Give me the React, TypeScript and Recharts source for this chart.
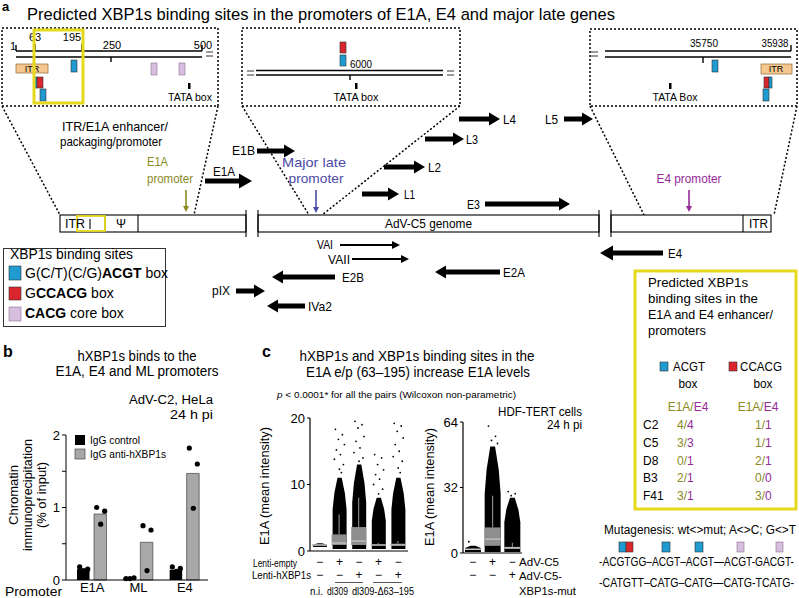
import React from 'react';
import { ComposedChart, Bar, Scatter, XAxis, YAxis } from 'recharts';

const FONT = '"Liberation Sans", Arial, Helvetica, sans-serif';

// ---------- Panel b data ----------
const promoters = ['E1A', 'ML', 'E4'];
const iggControl = [0.15, 0.03, 0.14];
const iggAnti = [0.91, 0.52, 1.47];
const controlReps = [[0.18, 0.15, 0.13], [0.02, 0.03, 0.02], [0.18, 0.16, 0.12]];
const antiReps = [[1.0, 0.95, 0.77], [0.75, 0.69, 0.13], [1.82, 1.6, 0.99]];
const chipTicks = [0, 0.5, 1, 1.5, 2];

// ---------- Panel c (left) data ----------
const lentiGroups = ['n.i.', 'dl309 empty', 'dl309 hXBP1s', 'd63 empty', 'd63 hXBP1s'];
const lentiEmptySigns = ['−', '+', '−', '+', '−'];
const lentiXbpSigns = ['−', '−', '+', '−', '+'];
const lentiDenseLo = [0.6, 0.3, 0.3, 0.3, 0.3];
const lentiDenseHi = [1.15, 11, 13, 8, 11];
const lentiQ1 = [0.8, 0.9, 0.9, 0.8, 0.8];
const lentiMedian = [0.9, 1.2, 1.5, 0.9, 0.9];
const lentiQ3 = [1.0, 2.5, 3.6, 1.0, 1.1];
const lentiWhisker = [1.0, 5.5, 8, 1.2, 1.5];
const lentiOutliers = [
  [],
  [18.3, 17.5, 16.8, 16.0, 15.2, 14.5, 13.8, 13.0, 12.3, 11.8],
  [19.5, 19.0, 18.5, 17.2, 16.5, 15.5, 14.8, 14.0, 13.5],
  [14.5, 14.0, 13.0, 12.2, 11.5, 10.8, 10.0, 9.3, 8.6],
  [19.2, 18.8, 18.0, 17.0, 16.0, 15.0, 14.2, 13.5, 12.5, 11.8],
];
const lentiTicks = [0, 10, 20];

// ---------- Panel c (right) data ----------
const advGroups = ['n.i.', 'AdV-C5', 'AdV-C5-XBP1s-mut'];
const advSigns1 = ['−', '+', '−'];
const advSigns2 = ['−', '−', '+'];
const advDenseLo = [0.5, 0.5, 0.5];
const advDenseHi = [3.5, 52, 27];
const advQ1 = [1.5, 3.5, 2.0];
const advMedian = [1.8, 6.8, 2.5];
const advQ3 = [2.2, 12.5, 3.0];
const advWhisker = [2.5, 28, 5];
const advOutliers = [[5.5], [62, 57, 55, 53.5], [30, 29, 28]];
const advTicks = [0, 32, 64];

// ---------- Yellow table data ----------
const strains = ['C2', 'C5', 'D8', 'B3', 'F41'];
const acgtE1A = [4, 3, 0, 2, 3];
const acgtE4 = [4, 3, 1, 1, 1];
const ccacgE1A = [1, 1, 2, 0, 3];
const ccacgE4 = [1, 1, 1, 0, 0];

// ---------- derived tables ----------
const chipData = promoters.map((p, i) => ({ promoter: p, control: iggControl[i], anti: iggAnti[i] }));
const ctrlDots = promoters.flatMap((p, i) => controlReps[i].map((v, r) => ({ promoter: p, v, rep: r })));
const antiDots = promoters.flatMap((p, i) => antiReps[i].map((v, r) => ({ promoter: p, v, rep: r })));

const lentiRows = lentiGroups.map((g, i) => ({
  g, dense: [lentiDenseLo[i], lentiDenseHi[i]], box: [lentiQ1[i], lentiQ3[i]], med: lentiMedian[i], wh: lentiWhisker[i],
}));
const lentiOut = lentiGroups.flatMap((g, i) => lentiOutliers[i].map((v, r) => ({ g, v, rep: r })));
const advRows = advGroups.map((g, i) => ({
  g, dense: [advDenseLo[i], advDenseHi[i]], box: [advQ1[i], advQ3[i]], med: advMedian[i], wh: advWhisker[i],
}));
const advOut = advGroups.flatMap((g, i) => advOutliers[i].map((v, r) => ({ g, v, rep: r })));

// ---------- colours ----------
const OLIVE = '#8a8a1e';
const PURPLE = '#952a98';
const MLBLUE = '#4b4aa6';
const YELLOW = '#e4d91c';
const BOXBLUE = '#1f9bd1';
const BOXRED = '#d9252b';
const PINK = '#d8bede';
const ITRFILL = '#f6c88f';

// ---------- helpers ----------
const T = ({ x, y, s = 12, w, a = 'start', c = '#000', b = false, rot, children }: any) => (
  <text
    x={x}
    y={y}
    fontSize={s}
    fill={c}
    fontWeight={b ? 'bold' : 'normal'}
    textAnchor={a}
    textLength={w}
    lengthAdjust={w ? 'spacingAndGlyphs' : undefined}
    transform={rot}
  >
    {children}
  </text>
);

const HArrow = ({ x1, x2, y, t = 5, hl = 11, hh = 13 }: any) => {
  const dir = x2 > x1 ? 1 : -1;
  const base = x2 - dir * hl;
  return (
    <g>
      <line x1={x1} y1={y} x2={base} y2={y} stroke="#000" strokeWidth={t} />
      <polygon points={`${x2},${y} ${base},${y - hh / 2} ${base},${y + hh / 2}`} fill="#000" />
    </g>
  );
};

const VArrow = ({ x, y1, y2, c }: any) => (
  <g>
    <line x1={x} y1={y1} x2={x} y2={y2 - 5} stroke={c} strokeWidth={1.6} />
    <polygon points={`${x},${y2} ${x - 3},${y2 - 6} ${x + 3},${y2 - 6}`} fill={c} />
  </g>
);

const Sw = ({ x, y, w, h, c, st }: any) => (
  <rect x={x} y={y} width={w} height={h} fill={c} stroke={st || '#333'} strokeWidth={0.6} />
);

const Eq = ({ x, y1, y2 }: any) => (
  <g stroke="#555" strokeWidth={1.2}>
    <line x1={x} x2={x + 7} y1={y1} y2={y1} />
    <line x1={x} x2={x + 7} y1={y2} y2={y2} />
  </g>
);

const JIT = [-4, 3, -1, 5, -3, 1, -5, 4, 0, 2];

const chipDot = (side: number) => (props: any) => {
  const { cx, cy, payload } = props;
  if (cx == null || cy == null) return <g />;
  const off = side * 8.5 + [-4, 4, 0][payload.rep];
  return <circle cx={cx + off} cy={cy} r={2.6} fill="#000" />;
};

const outDot = (props: any) => {
  const { cx, cy, payload } = props;
  if (cx == null || cy == null) return <g />;
  return <circle cx={cx + JIT[payload.rep % JIT.length]} cy={cy} r={0.9} fill="#000" />;
};

const Cloud = (p: any) => {
  const { x, width: w } = p;
  let { y, height: h } = p;
  if (h == null || isNaN(h)) return <g />;
  if (h < 0) { y = y + h; h = -h; }
  const b = y + h;
  const pts = [
    [x, b], [x, b - 0.55 * h], [x + 0.12 * w, b - 0.78 * h], [x + 0.35 * w, y],
    [x + 0.65 * w, y], [x + 0.88 * w, b - 0.78 * h], [x + w, b - 0.55 * h], [x + w, b],
  ];
  return <polygon points={pts.map((q) => q.join(',')).join(' ')} fill="#000" />;
};

const BoxShape = (p: any) => {
  const { x, width: w, payload } = p;
  let { y, height: h } = p;
  if (h == null || isNaN(h)) return <g />;
  if (h < 0) { y = y + h; h = -h; }
  const [q1, q3] = payload.box;
  const k = h / (q3 - q1);
  const bottom = y + h;
  const my = bottom - (payload.med - q1) * k;
  const wy = bottom - (payload.wh - q1) * k;
  return (
    <g>
      <line x1={x + w / 2} x2={x + w / 2} y1={y} y2={wy} stroke="#a0a0a0" strokeWidth={1} />
      <rect x={x} y={y} width={w} height={Math.max(h, 1.2)} fill="#8e8e8e" />
      <line x1={x} x2={x + w} y1={my} y2={my} stroke="#d6d6d6" strokeWidth={1} />
    </g>
  );
};

const signTick = (rows: string[][], groups: string[], d1: number, d2: number) => (props: any) => {
  const { x, y, payload } = props;
  const i = groups.indexOf(payload.value);
  return (
    <g fontSize={12} fill="#000">
      <text x={x} y={y + d1} textAnchor="middle">{rows[0][i]}</text>
      <text x={x} y={y + d2} textAnchor="middle">{rows[1][i]}</text>
    </g>
  );
};

const tickStyle = { fontSize: 13, fill: '#000' };

export default function App() {
  return (
    <div style={{ position: 'absolute', left: 0, top: 0, width: 799, height: 598, background: '#fff', fontFamily: FONT, overflow: 'hidden' }}>
      <svg width={799} height={598} style={{ position: 'absolute', left: 0, top: 0 }} fontFamily={FONT}>
        {/* ===== Panel a ===== */}
        <T x={2} y={11} s={13} b>a</T>
        <T x={27} y={20} s={17} w={588}>Predicted XBP1s binding sites in the promoters of E1A, E4 and major late genes</T>

        {/* insets */}
        <g fill="none" stroke="#000" strokeWidth={1.5} strokeDasharray="2 2">
          <rect x={2} y={28} width={216} height={78} />
          <rect x={242} y={28} width={218} height={78} />
          <rect x={590} y={29} width={207} height={77} />
          <line x1={2} y1={106} x2={60} y2={215} />
          <line x1={218} y1={106} x2={194} y2={215} />
          <line x1={242} y1={106} x2={309} y2={215} />
          <line x1={460} y1={106} x2={322} y2={215} />
          <line x1={590} y1={106} x2={644} y2={215} />
          <line x1={797} y1={106} x2={774} y2={215} />
        </g>

        {/* left inset */}
        <g stroke="#000" strokeWidth={1.4}>
          <line x1={16} x2={202} y1={51} y2={51} />
          <line x1={16} x2={202} y1={57} y2={57} />
          <line x1={16} x2={16} y1={45} y2={51} />
          <line x1={35} x2={35} y1={44} y2={51} />
          <line x1={82} x2={82} y1={44} y2={51} />
          <line x1={202} x2={202} y1={45} y2={51} />
          <line x1={111} x2={111} y1={57} y2={62} />
        </g>
        <Eq x={206} y1={52} y2={56} />
        <T x={10} y={50} s={11}>1</T>
        <T x={35} y={41} s={11} a="middle">63</T>
        <T x={72} y={41} s={11} a="middle">195</T>
        <T x={112} y={49} s={11} a="middle">250</T>
        <T x={203} y={49} s={11} a="middle">500</T>
        <rect x={16} y={64} width={32} height={9} fill={ITRFILL} stroke="#8a6a3a" strokeWidth={0.7} />
        <T x={32} y={71.5} s={9} a="middle">ITR</T>
        <Sw x={71} y={60} w={6} h={12} c={BOXBLUE} />
        <Sw x={151} y={63} w={6} h={12} c={PINK} st="#8a7090" />
        <Sw x={179} y={63} w={6} h={12} c={PINK} st="#8a7090" />
        <Sw x={34} y={77} w={3} h={11} c={BOXBLUE} />
        <Sw x={37} y={77} w={6} h={11} c={BOXRED} />
        <Sw x={40} y={89} w={6} h={12} c={BOXBLUE} />
        <rect x={188} y={83} width={2.5} height={6} fill="#000" />
        <T x={190} y={101} s={11} a="middle" w={44}>TATA box</T>
        <rect x={34} y={30} width={49} height={73} fill="none" stroke={YELLOW} strokeWidth={3} />

        {/* middle inset */}
        <g stroke="#000" strokeWidth={1.4}>
          <line x1={256} x2={443} y1={70.5} y2={70.5} />
          <line x1={256} x2={443} y1={75} y2={75} />
          <line x1={350} x2={350} y1={75} y2={80} />
        </g>
        <Eq x={247} y1={71} y2={75} />
        <Eq x={447} y1={71} y2={75} />
        <Sw x={340} y={42} w={6} h={11} c={BOXRED} />
        <Sw x={340} y={55} w={6} h={11} c={BOXBLUE} />
        <T x={350} y={68} s={11} w={22}>6000</T>
        <rect x={355} y={83} width={2.5} height={6} fill="#000" />
        <T x={356} y={101} s={11} a="middle" w={45}>TATA box</T>

        {/* right inset */}
        <g stroke="#000" strokeWidth={1.4}>
          <line x1={605} x2={791} y1={51} y2={51} />
          <line x1={605} x2={791} y1={57} y2={57} />
          <line x1={791} x2={791} y1={45} y2={51} />
          <line x1={703} x2={703} y1={57} y2={63} />
        </g>
        <Eq x={591} y1={52} y2={56} />
        <T x={704} y={47} s={11} a="middle" w={28}>35750</T>
        <T x={775} y={47} s={11} a="middle" w={27}>35938</T>
        <Sw x={712} y={60} w={6} h={12} c={BOXBLUE} />
        <rect x={761} y={64} width={31} height={10} fill={ITRFILL} stroke="#8a6a3a" strokeWidth={0.7} />
        <T x={776} y={72} s={9} a="middle">ITR</T>
        <Sw x={764} y={77} w={5} h={11} c={BOXRED} />
        <Sw x={769} y={77} w={3} h={11} c={BOXBLUE} />
        <Sw x={763} y={89} w={6} h={12} c={BOXBLUE} />
        <rect x={669} y={83} width={2.5} height={6} fill="#000" />
        <T x={675} y={101} s={11} a="middle" w={45}>TATA Box</T>

        <T x={62} y={131} s={13} w={106}>ITR/E1A enhancer/</T>
        <T x={60} y={146} s={13} w={102}>packaging/promoter</T>

        {/* promoters */}
        <T x={147} y={166} s={13} c={OLIVE} w={21}>E1A</T>
        <T x={147} y={183} s={13} c={OLIVE} w={46}>promoter</T>
        <VArrow x={186} y1={190} y2={212} c={OLIVE} />
        <T x={314} y={167} s={13} c={MLBLUE} a="middle" w={64}>Major late</T>
        <T x={316} y={183} s={13} c={MLBLUE} a="middle" w={55}>promoter</T>
        <VArrow x={316} y1={190} y2={213} c={MLBLUE} />
        <T x={689} y={183} s={13} c={PURPLE} a="middle" w={65}>E4 promoter</T>
        <VArrow x={689} y1={190} y2={212} c={PURPLE} />

        {/* transcription arrows */}
        <HArrow x1={205} x2={252} y={181} hl={13} hh={15} />
        <T x={213} y={176} s={13} w={22}>E1A</T>
        <HArrow x1={257} x2={295} y={151} />
        <T x={232} y={155} s={13} w={23}>E1B</T>
        <HArrow x1={362} x2={399} y={194} />
        <T x={404} y={199} s={13} w={11}>L1</T>
        <HArrow x1={384} x2={425} y={167} />
        <T x={428} y={172} s={13} w={13}>L2</T>
        <HArrow x1={425} x2={464} y={139} />
        <T x={466} y={144} s={13} w={12}>L3</T>
        <HArrow x1={459} x2={500} y={119} />
        <T x={503} y={124} s={13} w={13}>L4</T>
        <HArrow x1={564} x2={593} y={119} />
        <T x={545} y={124} s={13} w={13}>L5</T>
        <HArrow x1={485} x2={570} y={204} />
        <T x={467} y={209} s={13} w={13}>E3</T>
        <HArrow x1={663} x2={600} y={253} hl={13} hh={15} />
        <T x={668} y={258} s={13} w={14}>E4</T>
        <HArrow x1={500} x2={435} y={272} />
        <T x={503} y={277} s={13} w={22}>E2A</T>
        <HArrow x1={340} x2={400} y={245} t={2} hl={8} hh={8} />
        <T x={317} y={249} s={13} w={16}>VAI</T>
        <HArrow x1={352} x2={409} y={259} t={2} hl={8} hh={8} />
        <T x={328} y={264} s={13} w={22}>VAII</T>
        <HArrow x1={335} x2={272} y={277} />
        <T x={342} y={282} s={13} w={22}>E2B</T>
        <HArrow x1={236} x2={265} y={291} />
        <T x={212} y={295} s={13} w={18}>pIX</T>
        <HArrow x1={305} x2={267} y={306} />
        <T x={308} y={311} s={13} w={24}>IVa2</T>

        {/* genome bar */}
        <g fill="#fff" stroke="#000" strokeWidth={1.1}>
          <rect x={60} y={215} width={186} height={17} />
          <rect x={258} y={215} width={341} height={17} />
          <rect x={611} y={215} width={160} height={17} />
          <line x1={246} x2={246} y1={210} y2={237} />
          <line x1={258} x2={258} y1={210} y2={237} />
          <line x1={599} x2={599} y1={210} y2={237} />
          <line x1={611} x2={611} y1={210} y2={237} />
          <line x1={105} x2={105} y1={215} y2={232} />
          <line x1={138} x2={138} y1={215} y2={232} />
          <line x1={90} x2={90} y1={219} y2={229} />
          <line x1={743} x2={743} y1={215} y2={232} />
        </g>
        <rect x={77} y={216} width={28} height={15} fill="none" stroke={YELLOW} strokeWidth={1.8} />
        <T x={65} y={228} s={12} w={20}>ITR</T>
        <T x={121} y={228} s={12} a="middle">Ψ</T>
        <T x={385} y={228} s={12} w={87}>AdV-C5 genome</T>
        <T x={749} y={228} s={12} w={19}>ITR</T>

        {/* legend box */}
        <rect x={3.5} y={248.5} width={162} height={78} fill="#fff" stroke="#333" strokeWidth={1} />
        <T x={10} y={259} s={14} w={123}>XBP1s binding sites</T>
        <Sw x={9} y={266} w={12} h={14} c={BOXBLUE} />
        <text x={25} y={278} fontSize={14}>G(C/T)(C/G)<tspan fontWeight="bold">ACGT</tspan> box</text>
        <Sw x={9} y={287} w={12} h={13} c={BOXRED} />
        <text x={25} y={298} fontSize={14}>G<tspan fontWeight="bold">CCACG</tspan> box</text>
        <Sw x={9} y={307} w={12} h={14} c={PINK} st="#8a7090" />
        <text x={25} y={318} fontSize={14}><tspan fontWeight="bold">CACG</tspan> core box</text>

        {/* yellow box */}
        <rect x={635} y={271} width={161} height={238} fill="none" stroke={YELLOW} strokeWidth={3} />
        <T x={648} y={287} s={13} w={100}>Predicted XBP1s</T>
        <T x={648} y={303} s={13} w={110}>binding sites in the</T>
        <T x={648} y={319} s={13} w={125}>E1A and E4 enhancer/</T>
        <T x={648} y={335} s={13} w={58}>promoters</T>
        <Sw x={660} y={362} w={8} h={9} c={BOXBLUE} />
        <T x={673} y={371} s={12} w={32}>ACGT</T>
        <Sw x={729} y={362} w={8} h={9} c={BOXRED} />
        <T x={740} y={371} s={12} w={42}>CCACG</T>
        <T x={688} y={388} s={12} a="middle" w={19}>box</T>
        <T x={763} y={388} s={12} a="middle" w={19}>box</T>
        <text x={688} y={411} fontSize={12} textAnchor="middle"><tspan fill={OLIVE}>E1A/</tspan><tspan fill={PURPLE}>E4</tspan></text>
        <text x={758} y={411} fontSize={12} textAnchor="middle"><tspan fill={OLIVE}>E1A/</tspan><tspan fill={PURPLE}>E4</tspan></text>
        {strains.map((s, i) => (
          <g key={s} fontSize={12}>
            <text x={643} y={429 + i * 17.8}>{s}</text>
            <text x={677} y={429 + i * 17.8}><tspan fill={OLIVE}>{acgtE1A[i]}/</tspan><tspan fill={PURPLE}>{acgtE4[i]}</tspan></text>
            <text x={755} y={429 + i * 17.8}><tspan fill={OLIVE}>{ccacgE1A[i]}/</tspan><tspan fill={PURPLE}>{ccacgE4[i]}</tspan></text>
          </g>
        ))}

        {/* mutagenesis */}
        <T x={604} y={534} s={12} w={192}>{'Mutagenesis: wt<>mut; A<>C; G<>T'}</T>
        <Sw x={619} y={542} w={7} h={10} c={BOXBLUE} />
        <Sw x={626} y={542} w={7} h={10} c={BOXRED} />
        <Sw x={662} y={542} w={8} h={10} c={BOXBLUE} />
        <Sw x={695} y={542} w={8} h={10} c={BOXBLUE} />
        <Sw x={737} y={542} w={7} h={10} c={PINK} st="#8a7090" />
        <Sw x={776} y={542} w={7} h={10} c={PINK} st="#8a7090" />
        <T x={599} y={566} s={12} w={195}>-ACGTGG–ACGT–ACGT—ACGT-GACGT-</T>
        <T x={599} y={587} s={12} w={195}>-CATGTT–CATG–CATG—CATG-TCATG-</T>

        {/* ===== Panel b texts ===== */}
        <T x={3} y={357} s={16} b>b</T>
        <T x={137} y={361} s={14} a="middle" w={119}>hXBP1s binds to the</T>
        <T x={137} y={376} s={14} a="middle" w={163}>E1A, E4 and ML promoters</T>
        <T x={213} y={404} s={12} a="end" w={84}>AdV-C2, HeLa</T>
        <T x={213} y={419} s={12} a="end" w={43}>24 h pi</T>
        <rect x={75} y={435} width={10} height={10} fill="#000" />
        <rect x={75} y={449} width={10} height={10} fill="#a8a8a8" stroke="#444" strokeWidth={0.7} />
        <T x={90} y={444} s={11} w={50}>IgG control</T>
        <T x={90} y={458} s={11} w={76}>IgG anti-hXBP1s</T>
        <T x={18} y={495} s={12} a="middle" rot="rotate(-90 18 495)" w={60}>Chromatin</T>
        <T x={32} y={495} s={12} a="middle" rot="rotate(-90 32 495)" w={112}>immunoprecipitation</T>
        <T x={46} y={495} s={12} a="middle" rot="rotate(-90 46 495)" w={66}>(% of input)</T>
        <T x={5} y={596} s={13} w={57}>Promoter</T>

        {/* ===== Panel c texts ===== */}
        <T x={262} y={357} s={16} b>c</T>
        <T x={417} y={361} s={14} a="middle" w={235}>hXBP1s and XBP1s binding sites in the</T>
        <T x={418} y={377} s={14} a="middle" w={224}>E1A e/p (63–195) increase E1A levels</T>
        <text x={277} y={398} fontSize={9.5} textLength={239} lengthAdjust="spacingAndGlyphs"><tspan fontStyle="italic">p</tspan> {'< 0.0001* for all the pairs (Wilcoxon non-parametric)'}</text>
        <T x={498} y={416} s={12} w={84}>HDF-TERT cells</T>
        <T x={582} y={429} s={12} a="end" w={35}>24 h pi</T>
        <T x={269} y={486} s={13} a="middle" rot="rotate(-90 269 486)" w={118}>E1A (mean intensity)</T>
        <T x={434} y={487} s={13} a="middle" rot="rotate(-90 434 487)" w={118}>E1A (mean intensity)</T>
        <T x={297} y={567} s={11} a="end" w={44}>Lenti-empty</T>
        <T x={311} y={579} s={11} a="end" w={59}>Lenti-hXBP1s</T>
        <line x1={335} x2={363} y1={582.5} y2={582.5} stroke="#444" strokeWidth={0.9} />
        <line x1={373} x2={402} y1={582.5} y2={582.5} stroke="#444" strokeWidth={0.9} />
        <T x={310} y={595} s={11} w={13}>n.i.</T>
        <T x={327} y={595} s={11} w={21}>dl309</T>
        <T x={352} y={595} s={11} w={62}>dl309-Δ63–195</T>
        <T x={519} y={566} s={11} w={40}>AdV-C5</T>
        <T x={519} y={580} s={11} w={43}>AdV-C5-</T>
        <T x={519} y={595} s={11} w={57}>XBP1s-mut</T>
      </svg>

      {/* ===== Panel b chart ===== */}
      <div style={{ position: 'absolute', left: 0, top: 420 }}>
        <ComposedChart width={215} height={178} data={chipData} margin={{ top: 15, right: 7, bottom: 0, left: 36 }} barGap={4.5}>
          <XAxis dataKey="promoter" allowDuplicatedCategory={false} height={18} tickLine={false} tickSize={0} tickMargin={3}
            axisLine={{ stroke: '#000' }} padding={{ left: 3, right: 0 }} tick={tickStyle} interval={0} />
          <YAxis domain={[0, 2]} ticks={chipTicks} width={30} tickSize={4} tickMargin={2}
            tickFormatter={(v: number) => (Number.isInteger(v) ? String(v) : '')}
            axisLine={{ stroke: '#000' }} tickLine={{ stroke: '#000' }} tick={tickStyle} />
          <Bar dataKey="control" barSize={12.5} fill="#000" isAnimationActive={false} />
          <Bar dataKey="anti" barSize={12.5} fill="#a8a8a8" stroke="#444" strokeWidth={0.7} isAnimationActive={false} />
          <Scatter data={ctrlDots} dataKey="v" shape={chipDot(-1)} isAnimationActive={false} />
          <Scatter data={antiDots} dataKey="v" shape={chipDot(1)} isAnimationActive={false} />
        </ComposedChart>
      </div>

      {/* ===== Panel c left chart ===== */}
      <div style={{ position: 'absolute', left: 250, top: 405 }}>
        <ComposedChart width={170} height={195} data={lentiRows} margin={{ top: 13, right: 12, bottom: 35, left: 30 }}>
          <XAxis xAxisId="a" dataKey="g" allowDuplicatedCategory={false} height={14} tickLine={false} tickSize={0} tickMargin={0} interval={0}
            axisLine={{ stroke: '#000', strokeWidth: 1.2 }} tick={signTick([lentiEmptySigns, lentiXbpSigns], lentiGroups, 15, 28)} />
          <XAxis xAxisId="b" dataKey="g" allowDuplicatedCategory={false} hide />
          <YAxis domain={[0, 20]} ticks={lentiTicks} width={30} tickSize={3} tickMargin={2}
            axisLine={{ stroke: '#000', strokeWidth: 1.2 }} tickLine={{ stroke: '#000' }} tick={tickStyle} />
          <Bar xAxisId="a" dataKey="dense" barSize={14} fill="#000" shape={Cloud} isAnimationActive={false} />
          <Bar xAxisId="b" dataKey="box" barSize={15} fill="#8e8e8e" shape={BoxShape} isAnimationActive={false} />
          <Scatter xAxisId="a" data={lentiOut} dataKey="v" shape={outDot} isAnimationActive={false} />
        </ComposedChart>
      </div>

      {/* ===== Panel c right chart ===== */}
      <div style={{ position: 'absolute', left: 420, top: 405 }}>
        <ComposedChart width={110} height={193} data={advRows} margin={{ top: 17, right: 8, bottom: 33, left: 13 }}>
          <XAxis xAxisId="a" dataKey="g" allowDuplicatedCategory={false} height={12} tickLine={false} tickSize={0} tickMargin={0} interval={0}
            axisLine={{ stroke: '#000', strokeWidth: 1.2 }} tick={signTick([advSigns1, advSigns2], advGroups, 13, 26)} />
          <XAxis xAxisId="b" dataKey="g" allowDuplicatedCategory={false} hide />
          <YAxis domain={[0, 64]} ticks={advTicks} width={30} tickSize={3} tickMargin={2}
            axisLine={{ stroke: '#000', strokeWidth: 1.2 }} tickLine={{ stroke: '#000' }} tick={tickStyle} />
          <Bar xAxisId="a" dataKey="dense" barSize={16} fill="#000" shape={Cloud} isAnimationActive={false} />
          <Bar xAxisId="b" dataKey="box" barSize={16} fill="#8e8e8e" shape={BoxShape} isAnimationActive={false} />
          <Scatter xAxisId="a" data={advOut} dataKey="v" shape={outDot} isAnimationActive={false} />
        </ComposedChart>
      </div>
    </div>
  );
}
